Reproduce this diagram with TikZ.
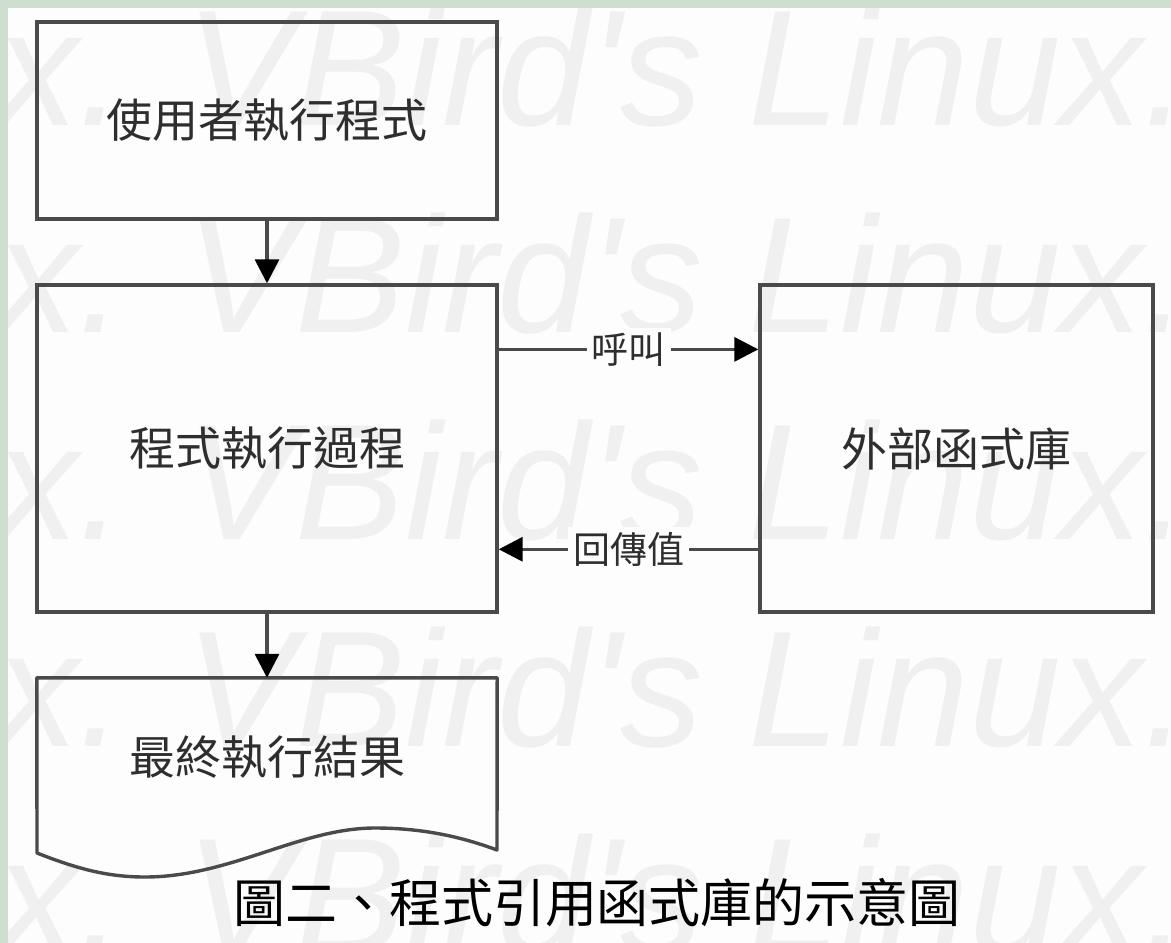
\documentclass[tikz,border=0pt]{standalone}
\usepackage{fontspec}
\newfontfamily\cjk{Noto Sans CJK TC}
\newfontfamily\wmfont{Liberation Sans}
\usetikzlibrary{arrows.meta,calc}
\definecolor{bgcol}{HTML}{FDFDFD}
\definecolor{framecol}{HTML}{CFDFCF}
\definecolor{wmcol}{HTML}{F0F0F0}
\definecolor{linecol}{HTML}{4A4A4A}
\definecolor{txtcol}{HTML}{2E2E2E}
\begin{document}
\begin{tikzpicture}[x=1pt,y=-1pt,
  boxnode/.style={draw=linecol, line width=3.4pt, rectangle, inner sep=0pt, text=txtcol, font=\cjk\fontsize{46}{50}\selectfont},
  lbl/.style={fill=bgcol, inner sep=5pt, text=txtcol, font=\cjk\fontsize{37}{40}\selectfont},
  conn/.style={draw=linecol, line width=3.4pt, -{Triangle[length=24pt,width=24pt,fill=black,color=black]}},
  wm/.style={text=wmcol, anchor=base west, inner sep=0pt, font=\wmfont\itshape\fontsize{165}{170}\selectfont}]
\path[use as bounding box] (0,0) rectangle (1171,943);
\fill[bgcol] (0,0) rectangle (1171,943);
\fill[framecol] (0,0) rectangle (1171,8);
\fill[framecol] (0,0) rectangle (8,943);
\begin{scope}
\clip (8,8) rectangle (1171,943);
\foreach \i/\yy in {1/125,2/332,3/539,4/746,5/953}{
  \node[wm] (wm\i) at (-4,\yy) {x. VBird's Linux.};
}
\end{scope}
% boxes
\node[boxnode, minimum width=460pt, minimum height=197pt] (b1) at (267,120.5) {使用者執行程式};
\node[boxnode, minimum width=460pt, minimum height=327pt] (b2) at (267,448.5) {程式執行過程};
\node[boxnode, minimum width=393pt, minimum height=327pt] (b3) at (956.5,448.5) {外部函式庫};
\node[rectangle, inner sep=0pt, minimum width=460pt, minimum height=158pt, text=txtcol, font=\cjk\fontsize{46}{50}\selectfont] (doc) at (267,757) {最終執行結果};
\draw[draw=linecol, line width=3.4pt, line join=round]
  (doc.north west) -- (doc.north east) -- (497,850)
  .. controls (470,840) and (430,828) .. (375,828)
  .. controls (300,828) and (230,877) .. (145,877)
  .. controls (110,877) and (80,870) .. (37,853) -- cycle;
% connectors
\draw[conn] (b1) -- (b2);
\draw[conn] ($(b2.north east)!0.2!(b2.south east)$) -- node[lbl] (l1) {呼叫} ($(b3.north west)!0.2!(b3.south west)$);
\draw[conn] ($(b3.north west)!0.805!(b3.south west)$) -- node[lbl] (l2) {回傳值} ($(b2.north east)!0.805!(b2.south east)$);
\draw[conn] (b2) -- (doc);
% caption
\node[font=\cjk\fontsize{52}{56}\selectfont, text=black, inner sep=0pt] (cap) at (597,903) {圖二、程式引用函式庫的示意圖};
\end{tikzpicture}
\end{document}
